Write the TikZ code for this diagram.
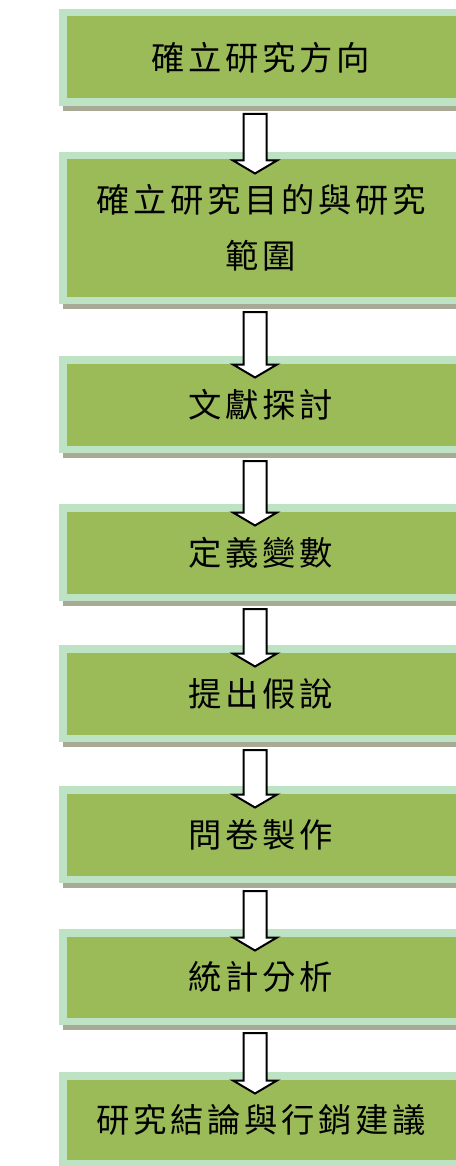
\documentclass[tikz,border=0pt]{standalone}
\usepackage{fontspec}
\newfontfamily\cjk[LetterSpace=11]{Noto Sans CJK TC}
\usetikzlibrary{calc,shadows}
\definecolor{boxgreen}{RGB}{155,187,89}
\definecolor{boxrim}{RGB}{190,226,196}
\definecolor{boxshade}{RGB}{168,170,150}
\tikzset{
  stepbox/.style={draw=boxrim, fill=boxgreen, line width=5.625pt,
    minimum width=297.375pt, minimum height=#1, inner sep=0pt, outer sep=0pt,
    font=\cjk\fontsize{25pt}{42pt}\selectfont, align=center, text=black,
    drop shadow={shadow xshift=0pt, shadow yshift=-6.5625pt, opacity=1, fill=boxshade}},
  stepbox/.default=67.125pt,
  blockarrow/.style={draw=black, fill=white, line width=1.5pt, line join=miter}
}
\newcommand\flowarrow[2]{%
  \coordinate (#1-#2-s) at ($(#1.south)+(-6,11.75)$);
  \coordinate (#1-#2-t) at ($(#2.north)+(-6,17.75)$);
  \draw[blockarrow] ($(#1-#2-s)+(-11.5,0)$) -- ($(#1-#2-s)+(11.5,0)$)
    -- ($(#1-#2-t)+(11.5,-13)$) -- ($(#1-#2-t)+(22,-13)$) -- (#1-#2-t)
    -- ($(#1-#2-t)+(-22,-13)$) -- ($(#1-#2-t)+(-11.5,-13)$) -- cycle;}
\begin{document}
\begin{tikzpicture}[x=0.75pt, y=-0.75pt]
\useasboundingbox (0,0) rectangle (456,1166);
\clip (0,0) rectangle (456,1166);
\node[stepbox] (b1) at (261,57.5) {確立研究方向};
\node[stepbox=108.375pt] (b2) at (261,228) {確立研究目的與研究\\範圍};
\node[stepbox] (b3) at (261,404.5) {文獻探討};
\node[stepbox] (b4) at (261,552.5) {定義變數};
\node[stepbox] (b5) at (261,693.5) {提出假說};
\node[stepbox] (b6) at (261,834.5) {問卷製作};
\node[stepbox=66.375pt] (b7) at (261,977) {統計分析};
\node[stepbox=66pt] (b8) at (261,1119.75) {研究結論與行銷建議};
\flowarrow{b1}{b2}
\flowarrow{b2}{b3}
\flowarrow{b3}{b4}
\flowarrow{b4}{b5}
\flowarrow{b5}{b6}
\flowarrow{b6}{b7}
\flowarrow{b7}{b8}
\end{tikzpicture}
\end{document}
